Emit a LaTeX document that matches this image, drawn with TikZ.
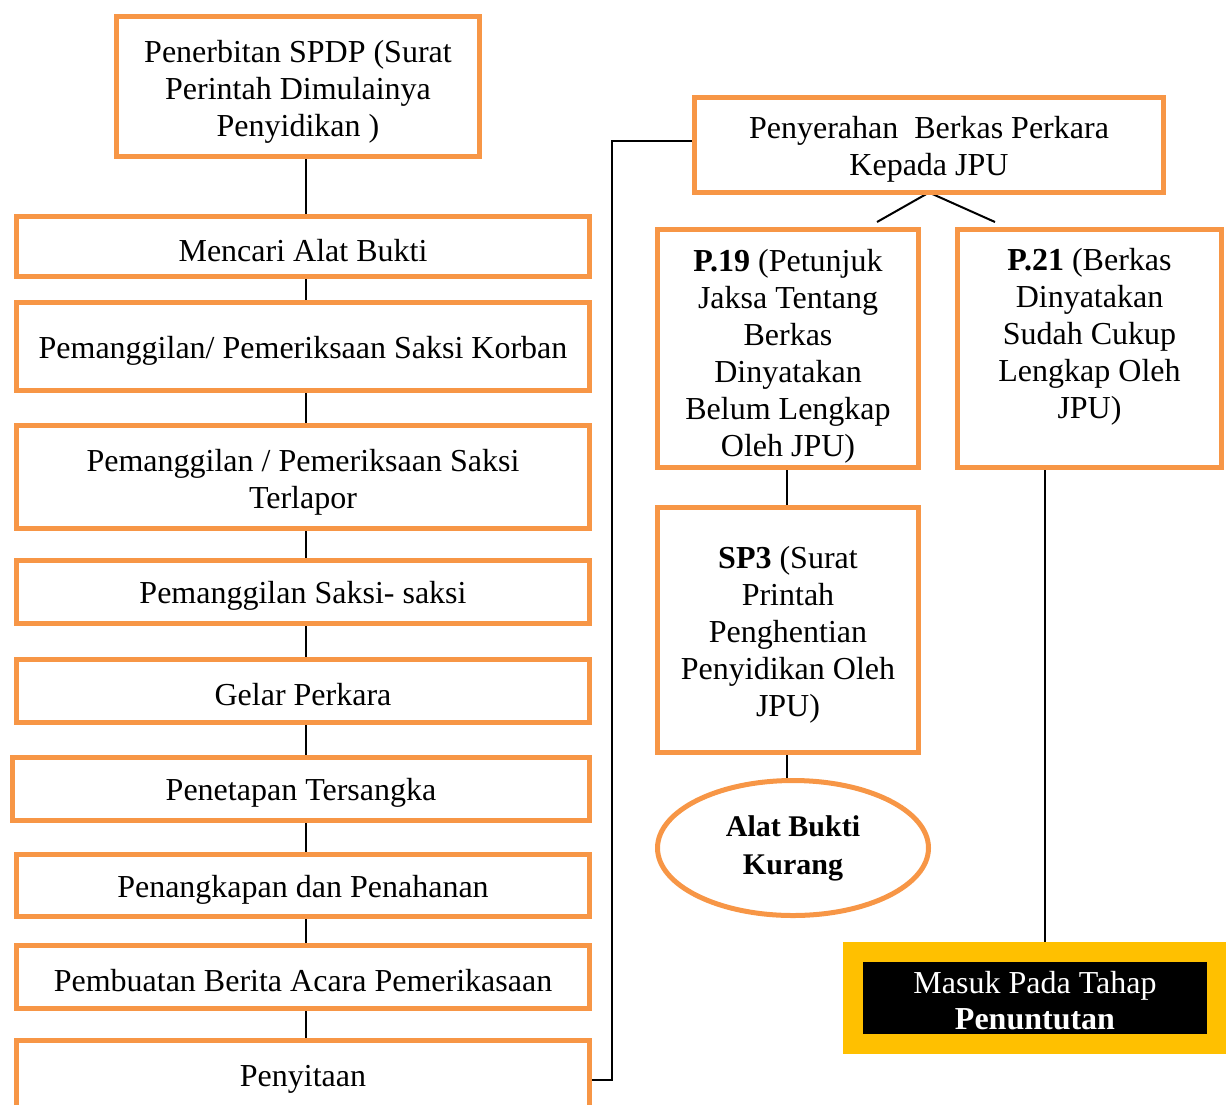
\documentclass[tikz,border=0pt]{standalone}
\usepackage{fontspec}
\setmainfont{Liberation Serif}
\usetikzlibrary{shapes.geometric,backgrounds}
\definecolor{obox}{HTML}{F79646}
\definecolor{ybox}{HTML}{FFC000}
\newcommand\mystrut[1]{\rule{0pt}{#1}}
\begin{document}
\begin{tikzpicture}[x=1pt,y=-1pt,
  lower/.style={execute at begin node={\rule{0pt}{#1}}},
  box/.style={draw=obox,line width=5pt,rectangle,inner sep=0pt,outer sep=0pt,align=center,
    font=\fontsize{32}{37}\selectfont},
  sbox/.style={box,lower=30pt},
  oval/.style={draw=obox,line width=5pt,ellipse,inner sep=0pt,outer sep=0pt,align=center,
    font=\fontsize{30}{38}\selectfont\bfseries},
  final/.style={draw=ybox,line width=20pt,fill=black,text=white,rectangle,inner sep=0pt,outer sep=0pt,
    align=center,font=\fontsize{32}{36}\selectfont},
  conn/.style={draw=black,line width=2pt}]
\useasboundingbox (0,0) rectangle (1226,1104);
% left column
\node[box,minimum width=363,minimum height=140] (spdp) at (298,86.5) {\mystrut{32pt}Penerbitan SPDP (Surat\\Perintah Dimulainya\\Penyidikan )};
\node[sbox,minimum width=573,minimum height=60] (cari) at (303,246.5) {Mencari Alat Bukti};
\node[sbox,minimum width=573,minimum height=88] (korban) at (303,346.5) {Pemanggilan/ Pemeriksaan Saksi Korban};
\node[box,minimum width=573,minimum height=103] (terlapor) at (303,477) {\mystrut{32pt}Pemanggilan / Pemeriksaan Saksi\\Terlapor};
\node[sbox,minimum width=573,minimum height=63] (saksi) at (303,592) {Pemanggilan Saksi- saksi};
\node[sbox,minimum width=573,minimum height=63] (gelar) at (303,691) {Gelar Perkara};
\node[sbox,minimum width=577,minimum height=63] (tsk) at (301,789) {Penetapan Tersangka};
\node[sbox,minimum width=573,minimum height=62] (tangkap) at (303,885.5) {Penangkapan dan Penahanan};
\node[sbox,minimum width=573,minimum height=63] (bap) at (303,977) {Pembuatan Berita Acara Pemerikasaan};
\node[sbox,minimum width=573,minimum height=69] (sita) at (303,1075) {Penyitaan};
% right side
\node[box,minimum width=469,minimum height=95] (serah) at (929,145) {\mystrut{30pt}Penyerahan\ \ Berkas Perkara\\Kepada JPU};
\node[box,minimum width=261,minimum height=238] (p19) at (788,348.5) {\mystrut{38pt}\textbf{P.19} (Petunjuk\\Jaksa Tentang\\Berkas\\Dinyatakan\\Belum Lengkap\\Oleh JPU)};
\node[box,minimum width=264,minimum height=238] (p21) at (1089.5,348.5) {\textbf{P.21} (Berkas\\Dinyatakan\\Sudah Cukup\\Lengkap Oleh\\JPU)\\[-7pt]\mbox{}};
\node[box,minimum width=261,minimum height=245] (sp3) at (788,630) {\mystrut{32pt}\textbf{SP3} (Surat\\Printah\\Penghentian\\Penyidikan Oleh\\JPU)};
\node[oval,minimum width=271,minimum height=135] (ell) at (793,848) {Alat Bukti\\Kurang};
\node[final,minimum width=364,minimum height=92] (tuntut) at (1035,998) {\mystrut{28pt}Masuk Pada Tahap\\\textbf{Penuntutan}};
\coordinate (colx) at (306,0);
\coordinate (colr) at (1045,0);
\coordinate (bl) at (877,222);
\coordinate (br) at (995,222);
\begin{pgfonlayer}{background}
\draw[conn] (spdp.south -| colx) -- (cari.north -| colx);
\draw[conn] (cari.south -| colx) -- (korban.north -| colx);
\draw[conn] (korban.south -| colx) -- (terlapor.north -| colx);
\draw[conn] (terlapor.south -| colx) -- (saksi.north -| colx);
\draw[conn] (saksi.south -| colx) -- (gelar.north -| colx);
\draw[conn] (gelar.south -| colx) -- (tsk.north -| colx);
\draw[conn] (tsk.south -| colx) -- (tangkap.north -| colx);
\draw[conn] (tangkap.south -| colx) -- (bap.north -| colx);
\draw[conn] (bap.south -| colx) -- (sita.north -| colx);
\draw[conn] ([yshift=-5pt]sita.east) -- ++(22,0) |- ([yshift=4pt]serah.west);
\draw[conn] (bl) -- (serah.south) -- (br);
\draw[conn] ([xshift=-1pt]p19.south) -- ([xshift=-1pt]sp3.north);
\draw[conn] ([xshift=-1pt]sp3.south) -- ([xshift=-1pt]sp3.south |- ell.north);
\draw[conn] (p21.south -| colr) -- ([yshift=-10pt]tuntut.north -| colr);
\end{pgfonlayer}
\end{tikzpicture}
\end{document}
